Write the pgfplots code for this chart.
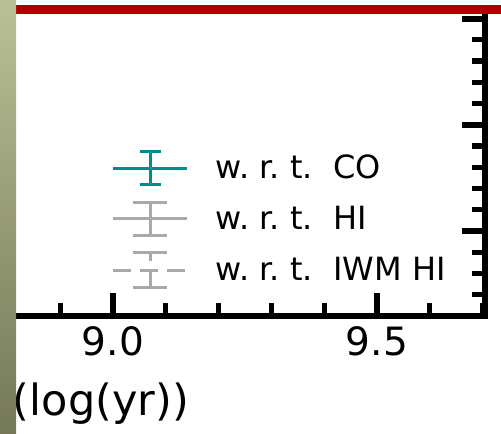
\documentclass[border=0pt]{standalone}
\usepackage{fontspec}
\setmainfont{DejaVu Sans}
\usepackage{pgfplots}
\pgfplotsset{compat=1.18}

\definecolor{slidered}{RGB}{170,0,0}
\definecolor{errteal}{RGB}{0,139,139}
\definecolor{errgray}{RGB}{169,169,169}
\definecolor{stripTop}{RGB}{186,192,150}
\definecolor{stripBot}{RGB}{116,120,88}

\begin{document}
\frenchspacing
\begin{tikzpicture}
\useasboundingbox (0,0) rectangle (250.5pt,216.5pt);
\begin{scope}
\clip (0,0) rectangle (250.5pt,213pt);
\begin{axis}[
  scale only axis,
  width=265.3pt, height=175.25pt,
  at={(-22.7pt,58.5pt)}, anchor=south west,
  xmin=8.7, xmax=9.705, ymin=-0.8, ymax=2.5,
  xtick={9.0,9.5},
  minor xtick={8.8,8.9,9.1,9.2,9.3,9.4,9.6,9.7},
  ytick={0,1,2},
  minor ytick={-0.6,-0.4,-0.2,0.2,0.4,0.6,0.8,1.2,1.4,1.6,1.8,2.2,2.4},
  yticklabels={},
  xtick pos=both, ytick pos=both,
  tick align=inside,
  axis line style={line width=3.2pt, black},
  major tick length=11.6pt, minor tick length=6.6pt,
  major tick style={line width=3pt, black},
  minor tick style={line width=2.6pt, black},
  /pgf/number format/assume math mode=true,
  xticklabel style={font=\fontsize{19.5}{20}\selectfont, yshift=-1.5pt,
    /pgf/number format/.cd, fixed, fixed zerofill, precision=1},
  xlabel={(log(yr))},
  xlabel style={at={(axis description cs:0.1093,-0.2825)}, anchor=base west,
    inner sep=0pt, font=\fontsize{21.5}{24}\selectfont},
  legend cell align=left,
  legend style={draw=none, fill=none, inner sep=0pt, outer sep=0pt,
    at={(axis description cs:0.2966,0.274)}, anchor=west,
    font=\fontsize{16}{18}\selectfont,
    row sep=7.25pt, column sep=13.5pt,
    nodes={inner sep=0pt, text=black}},
]
% error-bar legend keys: line, vertical bar and caps
\addlegendimage{legend image code/.code={
  \draw[errteal, line width=1.5pt] (0pt,0pt) -- (37pt,0pt);
  \draw[errteal, line width=1.5pt] (18.5pt,-8.25pt) -- (18.5pt,8.25pt);
  \draw[errteal, line width=1.5pt] (13.25pt,-8.25pt) -- (23.75pt,-8.25pt)
                                   (13.25pt,8.25pt) -- (23.75pt,8.25pt);
}}
\addlegendentry{w. r. t.\ \ CO}
\addlegendimage{legend image code/.code={
  \draw[errgray, line width=1.5pt] (0pt,0pt) -- (37pt,0pt);
  \draw[errgray, line width=1.5pt] (18.5pt,-8.25pt) -- (18.5pt,8.25pt);
  \draw[errgray, line width=1.5pt] (10pt,-8.25pt) -- (27pt,-8.25pt)
                                   (10pt,8.25pt) -- (27pt,8.25pt);
}}
\addlegendentry{w. r. t.\ \ HI}
\addlegendimage{legend image code/.code={
  \draw[errgray, line width=1.5pt, dash pattern=on 9pt off 4.5pt]
    (0pt,0pt) -- (37pt,0pt);
  \draw[errgray, line width=1.5pt, dash pattern=on 9pt off 4.5pt]
    (18.5pt,-8.75pt) -- (18.5pt,8.75pt);
  \draw[errgray, line width=1.5pt] (10pt,-8.75pt) -- (27pt,-8.75pt)
                                   (10pt,8.75pt) -- (27pt,8.75pt);
}}
\addlegendentry{w. r. t.\ \ IWM HI}
\end{axis}
\end{scope}
% slide decorations: red rule and shaded side band
\fill[slidered] (0,209.5pt) rectangle (250.5pt,213.75pt);
\shade[top color=stripTop, bottom color=stripBot] (0,0) rectangle (8pt,216.5pt);
\end{tikzpicture}
\end{document}
